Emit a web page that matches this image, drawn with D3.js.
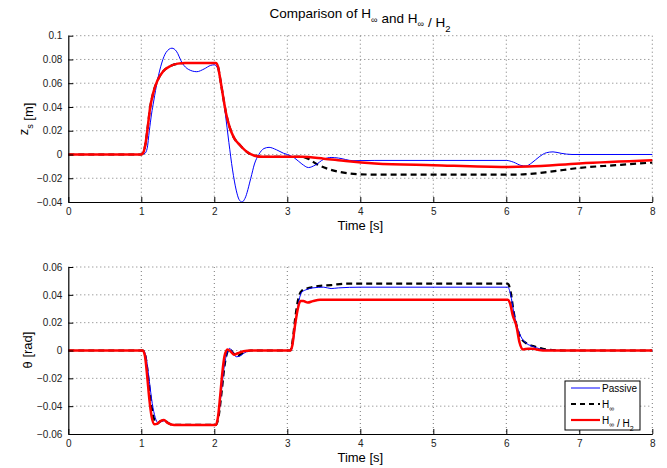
<!DOCTYPE html>
<html>
<head>
<meta charset="utf-8">
<script src="https://cdn.jsdelivr.net/npm/d3@7"></script>
<style>
  body { margin: 0; background: #fff; }
  svg { font-family: "Liberation Sans", Arial, sans-serif; }
</style>
</head>
<body>
<svg width="667" height="468"></svg>
<script>
// z_s [m] vs time
const zsPassive = [[0,0],[1.0,0],[1.05,0.001],[1.08,0.005],[1.11,0.02],[1.14,0.034],[1.17,0.045],[1.22,0.062],[1.28,0.077],[1.34,0.086],[1.42,0.0895],[1.48,0.087],[1.56,0.077],[1.65,0.0715],[1.76,0.0697],[1.86,0.072],[1.95,0.075],[2.0,0.0755],[2.05,0.072],[2.1,0.058],[2.15,0.035],[2.2,0.010],[2.25,-0.013],[2.3,-0.030],[2.34,-0.038],[2.38,-0.040],[2.42,-0.037],[2.5,-0.020],[2.55,-0.008],[2.61,0],[2.68,0.005],[2.75,0.006],[2.85,0.004],[2.95,0.001],[3.0,0],[3.1,-0.003],[3.2,-0.008],[3.29,-0.011],[3.38,-0.009],[3.5,-0.004],[3.6,-0.0025],[3.7,-0.003],[3.9,-0.0052],[4.2,-0.005],[6.0,-0.005],[6.1,-0.0065],[6.2,-0.0092],[6.27,-0.0097],[6.35,-0.007],[6.45,-0.002],[6.55,0.0015],[6.64,0.0022],[6.75,0.001],[6.9,0],[8,0]];
const zsHinf = [[0,0],[1.0,0],[1.03,0.002],[1.06,0.010],[1.09,0.024],[1.12,0.039],[1.16,0.051],[1.22,0.062],[1.3,0.070],[1.4,0.0745],[1.5,0.0765],[1.6,0.077],[2.02,0.077],[2.05,0.074],[2.08,0.064],[2.12,0.049],[2.16,0.035],[2.21,0.023],[2.27,0.014],[2.35,0.008],[2.45,0.002],[2.55,-0.001],[2.68,-0.002],[3.2,-0.002],[3.3,-0.004],[3.4,-0.008],[3.55,-0.012],[3.7,-0.0145],[3.97,-0.0166],[4.3,-0.017],[6.1,-0.017],[6.3,-0.0165],[6.6,-0.0145],[7,-0.0113],[7.5,-0.009],[8,-0.0068]];
const zsHinfH2 = [[0,0],[1.0,0],[1.03,0.002],[1.06,0.010],[1.09,0.024],[1.12,0.039],[1.16,0.051],[1.22,0.062],[1.3,0.070],[1.4,0.0745],[1.5,0.0765],[1.6,0.077],[2.02,0.077],[2.05,0.074],[2.08,0.064],[2.12,0.049],[2.16,0.035],[2.21,0.023],[2.27,0.014],[2.35,0.008],[2.45,0.002],[2.55,-0.001],[2.68,-0.002],[3.2,-0.002],[3.5,-0.0035],[3.8,-0.0055],[4.2,-0.0075],[5,-0.009],[6,-0.0105],[6.3,-0.0102],[7,-0.0075],[8,-0.0048]];

// theta [rad] vs time
const thPassive = [[0,0],[1.03,0],[1.07,-0.006],[1.11,-0.022],[1.15,-0.038],[1.19,-0.048],[1.23,-0.052],[1.28,-0.051],[1.32,-0.0505],[1.38,-0.0525],[1.45,-0.0535],[2.02,-0.0535],[2.06,-0.046],[2.1,-0.028],[2.14,-0.010],[2.18,-0.001],[2.21,0.0015],[2.25,-0.001],[2.3,-0.0045],[2.35,-0.004],[2.42,-0.0015],[2.5,0],[3.05,0],[3.08,0.006],[3.12,0.022],[3.16,0.036],[3.2,0.042],[3.25,0.0435],[3.35,0.045],[3.5,0.0455],[3.6,0.0445],[3.7,0.045],[4,0.0455],[6.02,0.0455],[6.06,0.040],[6.1,0.028],[6.15,0.017],[6.2,0.010],[6.28,0.005],[6.36,0.003],[6.46,0.0012],[6.6,0.0003],[6.75,0],[8,0]];
const thHinf = [[0,0],[1.02,0],[1.06,-0.005],[1.1,-0.022],[1.14,-0.040],[1.18,-0.050],[1.22,-0.0525],[1.27,-0.0505],[1.32,-0.0505],[1.38,-0.0525],[1.45,-0.0535],[2.02,-0.0535],[2.06,-0.047],[2.1,-0.030],[2.14,-0.011],[2.18,-0.001],[2.21,0.001],[2.26,-0.002],[2.31,-0.004],[2.38,-0.002],[2.5,0],[3.04,0],[3.07,0.006],[3.11,0.024],[3.15,0.037],[3.2,0.043],[3.3,0.045],[3.45,0.0465],[3.6,0.047],[3.8,0.048],[6.02,0.048],[6.06,0.042],[6.1,0.028],[6.15,0.016],[6.2,0.009],[6.28,0.005],[6.38,0.003],[6.5,0.0012],[6.65,0.0003],[6.8,0],[8,0]];
const thHinfH2 = [[0,0],[1.02,0],[1.05,-0.004],[1.08,-0.018],[1.11,-0.035],[1.14,-0.047],[1.18,-0.053],[1.22,-0.0525],[1.27,-0.0505],[1.31,-0.050],[1.36,-0.052],[1.45,-0.0535],[2.02,-0.0535],[2.05,-0.048],[2.08,-0.033],[2.11,-0.016],[2.14,-0.004],[2.18,0.0008],[2.22,-0.0005],[2.27,-0.003],[2.32,-0.002],[2.4,-0.0005],[2.5,0],[3.04,0],[3.07,0.004],[3.1,0.016],[3.14,0.029],[3.18,0.0355],[3.22,0.0355],[3.28,0.0345],[3.35,0.0355],[3.45,0.0365],[6.02,0.0365],[6.05,0.034],[6.09,0.025],[6.14,0.0173],[6.18,0.006],[6.23,0.0008],[6.3,0.0012],[6.37,0.0012],[6.45,0.0004],[6.55,0],[8,0]];

const xTicks = [0,1,2,3,4,5,6,7,8];
const zsTicks = [-0.04,-0.02,0,0.02,0.04,0.06,0.08,0.1];
const thTicks = [-0.06,-0.04,-0.02,0,0.02,0.04,0.06];
const legendLabels = ["Passive", "H∞", "H∞ / H2"];

const svg = d3.select("svg");
const left = 68.3, right = 652.3;

const x = d3.scaleLinear().domain([0, 8]).range([left, right]);
const fmt = v => v === 0 ? "0" : (v < 0 ? "\u2212" : "") + String(+Math.abs(v).toFixed(2));

// subscript text helper
function subText(sel, parts, size) {
  parts.forEach(p => {
    if (p.sub) {
      sel.append("tspan").attr("font-size", size * 0.7).attr("dy", size * 0.35).text(p.t);
      sel.append("tspan").attr("font-size", size).attr("dy", -size * 0.35).text("");
    } else {
      sel.append("tspan").text(p.t);
    }
  });
}

function panel(top, bottom, yDomain, yTicks, series) {
  const y = d3.scaleLinear().domain(yDomain).range([bottom, top]);
  const g = svg.append("g");

  // grid
  g.append("g").selectAll("line").data(xTicks.slice(1)).join("line")
    .attr("x1", d => x(d)).attr("x2", d => x(d)).attr("y1", top).attr("y2", bottom)
    .attr("stroke", "#777").attr("stroke-width", 1).attr("stroke-dasharray", "1,3");
  g.append("g").selectAll("line").data(yTicks.slice(1)).join("line")
    .attr("x1", left).attr("x2", right).attr("y1", d => y(d)).attr("y2", d => y(d))
    .attr("stroke", "#777").attr("stroke-width", 1).attr("stroke-dasharray", "1,3");

  const line = d3.line().x(d => x(d[0])).y(d => y(d[1])).curve(d3.curveMonotoneX);
  series.forEach(s => {
    g.append("path").datum(s.data)
      .attr("fill", "none").attr("stroke", s.color).attr("stroke-width", s.width)
      .attr("stroke-dasharray", s.dash || null).attr("d", line);
  });

  // axes (inward ticks)
  const xa = g.append("g").attr("transform", `translate(0,${bottom})`)
    .call(d3.axisBottom(x).tickValues(xTicks).tickSizeInner(-5).tickSizeOuter(0).tickPadding(6).tickFormat(d3.format("d")));
  const ya = g.append("g").attr("transform", `translate(${left},0)`)
    .call(d3.axisLeft(y).tickValues(yTicks).tickSizeInner(-5).tickSizeOuter(0).tickPadding(6).tickFormat(fmt));
  [xa, ya].forEach(a => {
    a.select(".domain").attr("stroke", "#000").attr("stroke-width", 1.2);
    a.selectAll(".tick line").attr("stroke", "#000");
    a.selectAll("text").attr("font-size", 10).attr("fill", "#222").attr("font-family", "Liberation Sans, Arial, sans-serif");
  });

  svg.append("text").attr("x", (left + right) / 2).attr("y", bottom + 27.5)
    .attr("text-anchor", "middle").attr("font-size", 13).text("Time [s]");
  return y;
}

const blue = "#0000ff", red = "#ff0000";

panel(35.7, 202, [-0.04, 0.1], zsTicks, [
  { data: zsHinf, color: "#000", width: 2.2, dash: "6,4" },
  { data: zsPassive, color: blue, width: 1 },
  { data: zsHinfH2, color: red, width: 2.5 }
]);

panel(267, 434, [-0.06, 0.06], thTicks, [
  { data: thHinf, color: "#000", width: 2.2, dash: "6,4" },
  { data: thPassive, color: blue, width: 1 },
  { data: thHinfH2, color: red, width: 2.5 }
]);

// title
const title = svg.append("text").attr("x", 360).attr("y", 18).attr("text-anchor", "middle").attr("font-size", 13.5);
subText(title, [{t: "Comparison of H"}, {t: "\u221E", sub: true}, {t: " and H"}, {t: "\u221E", sub: true}, {t: " / H"}, {t: "2", sub: true}], 13.5);

// y labels
const yl1 = svg.append("text").attr("transform", "translate(28,119) rotate(-90)").attr("text-anchor", "middle").attr("font-size", 13);
subText(yl1, [{t: "z"}, {t: "s", sub: true}, {t: " [m]"}], 13);
svg.append("text").attr("transform", "translate(32,350) rotate(-90)").attr("text-anchor", "middle")
  .attr("font-size", 13).text("\u03B8 [rad]");

// legend
const lg = svg.append("g").attr("transform", "translate(565,381)");
lg.append("rect").attr("width", 75).attr("height", 49).attr("fill", "#fff").attr("stroke", "#000").attr("stroke-width", 1);
const legendStyles = [
  { color: blue, width: 1, dash: null },
  { color: "#000", width: 2, dash: "5,4" },
  { color: red, width: 2.2, dash: null }
];
const rowY = [7, 23, 39];
legendLabels.forEach((lab, i) => {
  const st = legendStyles[i];
  lg.append("line").attr("x1", 6).attr("x2", 35).attr("y1", rowY[i]).attr("y2", rowY[i])
    .attr("stroke", st.color).attr("stroke-width", st.width).attr("stroke-dasharray", st.dash);
  const t = lg.append("text").attr("x", 37).attr("y", rowY[i] + 3.5).attr("font-size", 10);
  if (i === 0) t.text(lab);
  else if (i === 1) subText(t, [{t: "H"}, {t: "\u221E", sub: true}], 10);
  else subText(t, [{t: "H"}, {t: "\u221E", sub: true}, {t: " / H"}, {t: "2", sub: true}], 10);
});
</script>
</body>
</html>
